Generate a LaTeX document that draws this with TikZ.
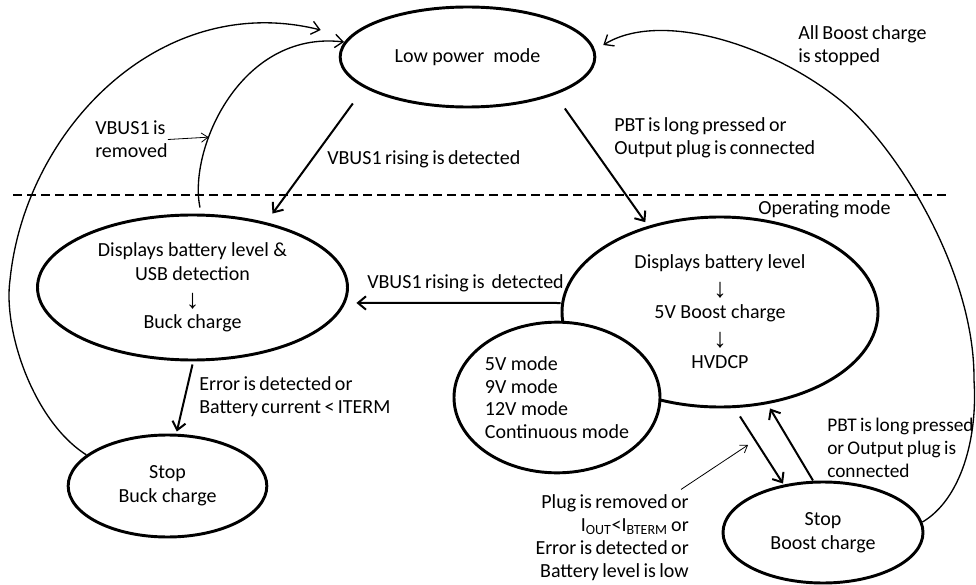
\documentclass[tikz,border=0pt]{standalone}
\usepackage{fontspec}
\setmainfont{Carlito}
\newfontfamily\arrowfont{Liberation Sans}
\usetikzlibrary{shapes.geometric}
\usetikzlibrary{arrows.meta}
\newcommand\sepy{195}
\newcommand\dn{\raisebox{-2.5pt}[0.5em][0pt]{\scalebox{1.35}{\arrowfont ↓}}}
\newcommand\tightsp{\spaceskip=0.17em plus 0.05em\relax}

\begin{document}
\begin{tikzpicture}[x=0.75pt, y=-0.75pt, font=\fontsize{15}{18}\selectfont,
    state/.style={ellipse, draw, line width=2.2pt, inner sep=0pt, align=center},
    move/.style={-{Straight Barb[length=6pt,width=10pt]}, line width=1.5pt},
    loop/.style={-{Straight Barb[length=6pt,width=10pt]}, line width=1pt},
    pointer/.style={-{Straight Barb[length=5pt,width=7pt]}, line width=0.6pt},
    note/.style={inner sep=0pt, align=left, anchor=west, font=\fontsize{15}{17.2}\selectfont\tightsp}]

    \useasboundingbox (0,0) rectangle (976,585);

    \node at (467.5, 57) [state, minimum width=191pt, minimum height=75pt] (low) {Low power\ \ mode};
    \node at (192.5, 287.5) [state, minimum width=232.5pt, minimum height=108.75pt] (buck) {Displays battery level \&\\USB detection\\\dn\\Buck charge};
    \node at (167.5, 486) [state, minimum width=149pt, minimum height=76.5pt] (stopbuck) {Stop\\Buck charge};
    \node at (720, 312) [state, minimum width=237pt, minimum height=142.5pt, font=\fontsize{15}{18.75}\selectfont] (boost) {Displays battery level\\\dn\\5V Boost charge\\\dn\\HVDCP};
    \node at (557, 397.5) [state, fill=white, align=left, minimum width=154.5pt, minimum height=113pt, font=\fontsize{15}{17}\selectfont] (modes) {5V mode\\9V mode\\12V mode\\Continuous mode};
    \node at (823, 532.5) [state, minimum width=150pt, minimum height=75.75pt] (stopboost) {Stop\\Boost charge};

    %divider
    \draw[line width=1.5pt, dash pattern=on 6.75pt off 3.75pt] (13, \sepy) -- (947, \sepy);
    \node at (824.5, 209) (opmode) {Operating mode};

    %labels
    \node[note] at (95, 139.5) (vbusrm) {VBUS1 is\\removed};
    \node[note] at (327, 159) (risetop) {VBUS1 rising is detected};
    \node[note] at (614, 137.5) (pbttop) {PBT is long pressed or\\Output plug is connected};
    \node[note] at (798, 45.5) (allstop) {All Boost charge\\is stopped};
    \node[note] at (367, 283) (risemid) {VBUS1 rising is\ \ detected};
    \node[note] at (199, 396.5) (errbuck) {Error is detected or\\Battery current < ITERM};
    \node[note, font=\fontsize{14.5}{17.2}\selectfont\tightsp] at (827, 447.5) (pbtlow) {PBT is long pressed\\or Output plug is\\connected};
    \node[note, align=right, anchor=east] at (689, 538) (plug) {Plug is removed or\\I\textsubscript{OUT}<I\textsubscript{BTERM} or\\Error is detected or\\Battery level is low};

    %Low power <-> buck
    \draw[move] ([xshift=-86pt, yshift=3.75pt]low.south) -- ([xshift=60pt]buck.north);
    \draw[loop] ([xshift=5.6pt, yshift=4.5pt]buck.north) .. controls (188, 150) and (240, 30) .. coordinate[pos=0.33] (rmtip) ([xshift=4pt, yshift=11.25pt]low.west);
    \draw[pointer] (vbusrm.east) -- (rmtip);

    %buck -> stop -> low power
    \draw[move] ([yshift=-2.25pt]buck.south) -- ([xshift=7pt, yshift=1.5pt]stopbuck.north);
    \draw[loop] (stopbuck.159) .. controls (33, 421) and (3, 330) .. (10, 280) .. controls (25, 130) and (160, -10) .. ([xshift=-13.5pt, yshift=20.25pt]low.west);

    %Low power -> boost
    \draw[move] ([xshift=73pt]low.south) -- ([xshift=-56pt, yshift=-5pt]boost.north);
    \draw[move] ([yshift=6.75pt]boost.west) -- ([xshift=5.6pt, yshift=-11.6pt]buck.east);

    %boost <-> stop boost
    \draw[move] ([xshift=15pt, yshift=-6pt]boost.south) -- ([xshift=-30pt, yshift=-2.25pt]stopboost.north);
    \draw[move] ([xshift=-7.5pt]stopboost.north) -- ([xshift=37.5pt]boost.south);
    \coordinate (plugtip) at (748, 445);
    \draw[pointer] ([xshift=-6pt, yshift=4pt]plug.north east) -- (plugtip);

    %stop boost -> low power
    \draw[loop] (stopboost.6) .. controls (960, 500) and (978, 440) .. (974, 380) .. controls (975, 270) and (895, 144) .. (840, 100) .. controls (770, 44) and (660, 10) .. ([xshift=5.25pt, yshift=9pt]low.east);
\end{tikzpicture}
\end{document}
